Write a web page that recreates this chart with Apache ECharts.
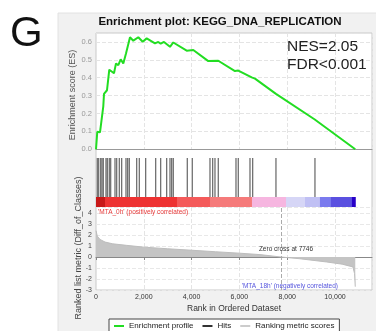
<!DOCTYPE html>
<html>
<head>
<meta charset="utf-8">
<script src="https://cdn.jsdelivr.net/npm/echarts@6/dist/echarts.min.js"></script>
<style>
  html, body { margin: 0; padding: 0; background: #fff; }
  #chart { width: 376px; height: 331px; }
</style>
</head>
<body>
<div id="chart"></div>
<script>
// running enrichment score (rank, ES)
var esRank = [0, 54, 167, 305, 335, 418, 460, 556, 753, 837, 933, 1033, 1142, 1255, 1310, 1423, 1561, 1770, 1954, 2121, 2469, 2607, 2707, 2845, 3096, 3234, 3795, 4071, 4699, 5117, 5816, 5954, 6515, 6653, 7531, 9140, 9163, 10850];
var esValue = [0, 0.098, 0.095, 0.24, 0.31, 0.30, 0.33, 0.445, 0.425, 0.48, 0.47, 0.503, 0.48, 0.536, 0.545, 0.626, 0.607, 0.626, 0.601, 0.62, 0.592, 0.60, 0.59, 0.60, 0.573, 0.597, 0.551, 0.555, 0.493, 0.495, 0.437, 0.44, 0.402, 0.395, 0.31, 0.168, 0.175, 0];

// gene set hits
var hitRanks = [54, 113, 197, 251, 305, 418, 473, 556, 615, 795, 866, 975, 1075, 1255, 1326, 1393, 1703, 1812, 2079, 2498, 2707, 2958, 3096, 3167, 3234, 3820, 4029, 4770, 4883, 4979, 5117, 5858, 5954, 6444, 6557, 7531, 9163];

// ranked list metric (rank, metric)
var metricRank = [0, 54, 167, 380, 700, 1284, 2000, 3000, 4060, 5000, 6000, 6860, 7746, 8500, 9650, 10300, 10750, 10820, 10850];
var metricValue = [2.4, 1.9, 1.6, 1.36, 1.2, 1.06, 0.9, 0.75, 0.61, 0.48, 0.35, 0.22, 0, -0.15, -0.45, -0.65, -0.9, -1.5, -2.7];

// colour bar segments
var segStart = [0, 377, 3389, 4770, 6527, 7950, 8745, 9372, 9832, 10711];
var segEnd = [377, 3389, 4770, 6527, 7950, 8745, 9372, 9832, 10711, 10850];
var segColor = ['#c81818', '#ee3232', '#f45a5a', '#f57a7a', '#f6b6e0', '#d6d6f6', '#c0c0f4', '#7a7aee', '#5a50e0', '#2800c8'];

var xTicks = [0, 2000, 4000, 6000, 8000, 10000];
var zeroCross = 7746;

var chart = echarts.init(document.getElementById('chart'));
var F = 'Liberation Sans, Arial, sans-serif';
var X_MAX = 11550;

function xAxisBase(idx, showLabels) {
  return {
    type: 'value', gridIndex: idx, min: 0, max: X_MAX, interval: 2000,
    axisLine: { show: showLabels, lineStyle: { color: '#888' } },
    axisTick: { show: showLabels, length: 3, lineStyle: { color: '#888' } },
    axisLabel: {
      show: showLabels, fontSize: 7, color: '#333', fontFamily: F, margin: 4,
      showMaxLabel: false,
      formatter: function (v) { return xTicks.indexOf(v) >= 0 ? v.toLocaleString('en-US') : ''; }
    },
    splitLine: { show: idx === 0 || idx === 3, lineStyle: { color: '#e4e4e4', type: 'dashed' } }
  };
}

var option = {
  animation: false,
  textStyle: { fontFamily: F },
  grid: [
    { left: 96, right: 4, top: 33, height: 116.3 },
    { left: 96, right: 4, top: 158, height: 39 },
    { left: 96, right: 4, top: 197, height: 10 },
    { left: 96, right: 4, top: 207, height: 83 }
  ],
  xAxis: [
    (function () { var a = xAxisBase(0, false); a.axisLine = { show: true, onZero: false, lineStyle: { color: '#999' } }; return a; })(),
    xAxisBase(1, false),
    xAxisBase(2, false),
    xAxisBase(3, true)
  ],
  yAxis: [
    {
      type: 'value', gridIndex: 0, min: 0, max: 0.65, interval: 0.1,
      axisLine: { show: false }, axisTick: { show: false },
      axisLabel: { fontSize: 7.5, color: '#999', margin: 4, showMaxLabel: false,
        formatter: function (v) { return v.toFixed(1); } },
      splitLine: { lineStyle: { color: '#e4e4e4', type: 'dashed' } }
    },
    { type: 'value', gridIndex: 1, min: 0, max: 1, show: false },
    { type: 'value', gridIndex: 2, min: 0, max: 1, show: false },
    {
      type: 'value', gridIndex: 3, min: -3, max: 4.55, interval: 1,
      axisLine: { show: false }, axisTick: { show: false },
      axisLabel: { fontSize: 7, color: '#444', margin: 4, showMaxLabel: false },
      splitLine: { lineStyle: { color: '#e8e8e8', type: 'dashed' } }
    }
  ],
  legend: {
    left: 109, top: 319,
    padding: [3, 5], itemGap: 9,
    borderColor: '#444', borderWidth: 1, backgroundColor: '#fff',
    itemWidth: 10, itemHeight: 2,
    textStyle: { fontSize: 8, color: '#222', fontFamily: F },
    data: [
      { name: 'Enrichment profile', icon: 'rect', itemStyle: { color: '#22dd22' } },
      { name: 'Hits', icon: 'rect', itemStyle: { color: '#333' } },
      { name: 'Ranking metric scores', icon: 'rect', itemStyle: { color: '#ccc' } }
    ]
  },
  graphic: [
    { type: 'rect', z: -20, shape: { x: 58, y: 13, width: 320, height: 320 }, style: { fill: '#f1f1f1', stroke: '#e2e2e2' } },
    { type: 'rect', z: -10, shape: { x: 96, y: 33, width: 276, height: 257 }, style: { fill: '#fff', stroke: '#c8c8c8' } },
    { type: 'text', left: 10, top: 13, style: { text: 'G', fontSize: 42, fontFamily: F, fill: '#111' } },
    { type: 'text', x: 220, y: 22, style: { text: 'Enrichment plot: KEGG_DNA_REPLICATION', fontSize: 11.5, fontWeight: 'bold', fontFamily: F, fill: '#111', align: 'center', verticalAlign: 'middle' } },
    { type: 'text', x: 287, y: 47, z: 10, style: { text: 'NES=2.05', fontSize: 15.5, fontFamily: F, fill: '#222', verticalAlign: 'middle' } },
    { type: 'text', x: 287, y: 65, z: 10, style: { text: 'FDR<0.001', fontSize: 15.5, fontFamily: F, fill: '#222', verticalAlign: 'middle' } },
    { type: 'text', x: 73, y: 95, rotation: Math.PI / 2, style: { text: 'Enrichment score (ES)', fontSize: 9, fontFamily: F, fill: '#555', align: 'center', verticalAlign: 'middle' } },
    { type: 'text', x: 79, y: 248, rotation: Math.PI / 2, style: { text: 'Ranked list metric (Diff_of_Classes)', fontSize: 9, fontFamily: F, fill: '#444', align: 'center', verticalAlign: 'middle' } },
    { type: 'text', x: 98, y: 212, z: 10, style: { text: "'MTA_0h' (positively correlated)", fontSize: 6.5, fontFamily: F, fill: '#e83a3a', verticalAlign: 'middle' } },
    { type: 'text', x: 286, y: 249, z: 10, style: { text: 'Zero cross at 7746', fontSize: 6.5, fontFamily: F, fill: '#333', align: 'center', verticalAlign: 'middle' } },
    { type: 'text', x: 338, y: 286, z: 10, style: { text: "'MTA_18h' (negatively correlated)", fontSize: 6.5, fontFamily: F, fill: '#5555dd', align: 'right', verticalAlign: 'middle' } },
    { type: 'text', x: 234, y: 309, style: { text: 'Rank in Ordered Dataset', fontSize: 8.5, fontFamily: F, fill: '#333', align: 'center', verticalAlign: 'middle' } }
  ],
  series: [
    {
      name: 'Enrichment profile', type: 'line', xAxisIndex: 0, yAxisIndex: 0,
      data: esRank.map(function (r, i) { return [r, esValue[i]]; }),
      showSymbol: false, lineStyle: { color: '#22dd22', width: 2 }, z: 5
    },
    {
      name: 'Hits', type: 'custom', xAxisIndex: 1, yAxisIndex: 1,
      itemStyle: { color: '#333' },
      data: hitRanks.map(function (r) { return [r]; }),
      renderItem: function (params, api) {
        var b = api.coord([api.value(0), 0]);
        var t = api.coord([api.value(0), 1]);
        return { type: 'line', shape: { x1: b[0], y1: b[1], x2: t[0], y2: t[1] }, style: { stroke: '#4a4a4a', lineWidth: 1.2, opacity: 0.85 } };
      }
    },
    {
      name: 'bar', type: 'custom', xAxisIndex: 2, yAxisIndex: 2,
      data: segStart.map(function (s, i) { return [s, segEnd[i], i]; }),
      renderItem: function (params, api) {
        var a = api.coord([api.value(0), 1]);
        var b = api.coord([api.value(1), 0]);
        return { type: 'rect', shape: { x: a[0], y: a[1], width: b[0] - a[0] + 0.5, height: b[1] - a[1] }, style: { fill: segColor[api.value(2)] } };
      }
    },
    {
      name: 'Ranking metric scores', type: 'line', xAxisIndex: 3, yAxisIndex: 3,
      data: metricRank.map(function (r, i) { return [r, metricValue[i]]; }),
      showSymbol: false, lineStyle: { color: '#bdbdbd', width: 1 },
      itemStyle: { color: '#ccc' },
      areaStyle: { color: '#c4c4c4', opacity: 1 },
      markLine: {
        silent: true, symbol: 'none', label: { show: false },
        lineStyle: { color: '#aaa', type: 'dashed', width: 1 },
        data: [{ xAxis: zeroCross }]
      }
    }
  ]
};

chart.setOption(option);
</script>
</body>
</html>
